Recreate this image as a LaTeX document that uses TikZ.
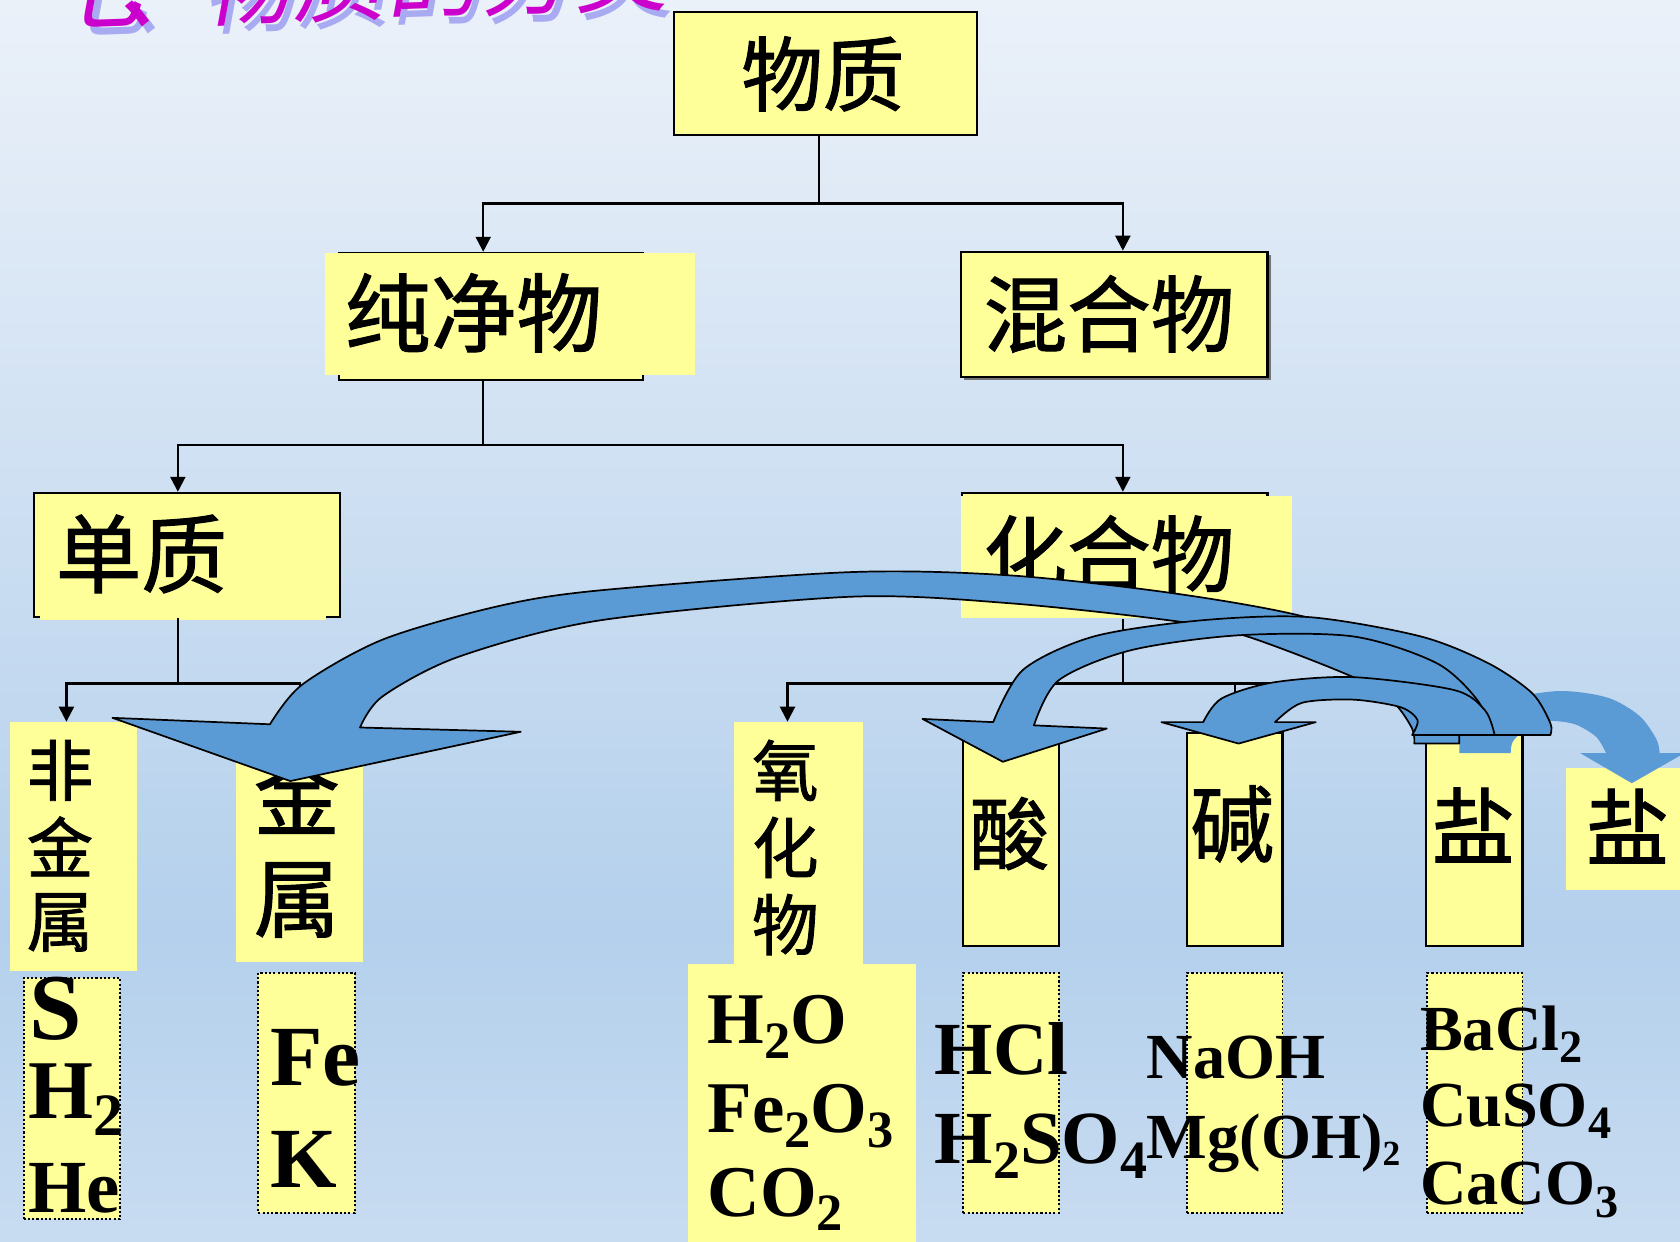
\documentclass[tikz,border=0pt]{standalone}
\usepackage{fontspec}
\usepackage{graphicx}
\setmainfont{Liberation Serif}
\newfontfamily\cjk[FakeBold=1.3]{Noto Sans CJK SC}
\newfontfamily\ttlcjk[FakeSlant=0.22]{Noto Sans CJK SC}
\usetikzlibrary{arrows.meta,fit}
\definecolor{paleY}{HTML}{FFFF99}
\definecolor{arrowB}{HTML}{5B9BD5}
\definecolor{bgTop}{HTML}{EBF1F9}
\definecolor{bgMid}{HTML}{B4D0EC}
\definecolor{bgBot}{HTML}{C8DCF1}
\definecolor{ttlMag}{HTML}{CC00CC}
\definecolor{ttlShd}{HTML}{A8AAF2}
\newcommand\fsz[1]{\fontsize{#1}{#1}\selectfont}
\newcommand\sbs[1]{\raisebox{-0.2em}{\scalebox{0.72}{#1}}}
\newcommand\sbsm[1]{\raisebox{-0.12em}{\scalebox{0.55}{#1}}}
\begin{document}
\begin{tikzpicture}[x=0.5pt,y=-0.5pt,
  ybox/.style={fill=paleY, draw=black, line width=1pt, inner sep=0pt},
  yfill/.style={fill=paleY, inner sep=0pt},
  dbox/.style={fill=paleY, draw=black, line width=0.9pt, dash pattern=on 1pt off 1pt, inner sep=0pt},
  chem/.style={inner sep=0pt, anchor=base west},
  ctext/.style={inner sep=0pt},
  tl/.style={draw=black, line width=1pt},
  ta/.style={tl, -{Triangle[length=7pt,width=7pt]}},
  bluearr/.style={fill=arrowB, draw=black, line width=0.8pt, line join=round},
  bluefill/.style={fill=arrowB}]
\useasboundingbox (0,0) rectangle (1568,1159);
% background
\fill[top color=bgTop, bottom color=bgMid] (0,0) rectangle (1568,870);
\fill[top color=bgMid, bottom color=bgBot] (0,869) rectangle (1568,1159);

% title (cut off at the top, as in the original slide)
\begin{scope}
\clip (0,0) rectangle (1568,1159);
\node[inner sep=0pt, anchor=base west, rotate=2, text=ttlShd, font=\ttlcjk\fsz{44}] (ttls) at (53,30) {七\kern-0.3em、\kern-0.15em物质的分类};
\node[inner sep=0pt, anchor=base west, rotate=2, text=ttlMag, font=\ttlcjk\fsz{44}] (ttl) at (48,23) {七\kern-0.3em、\kern-0.15em物质的分类};
\end{scope}

% level 0
\node[ybox, fit={(629,11) (912,126)}] (wz) {};
\node[ctext, font=\cjk\fsz{38}] (twz) at (768,69) {物质};

% level 1
\node[ybox, fit={(316,236) (600,355)}] (cjb) {};
\node[yfill, fit={(303,236) (649,350)}] (cjy) {};
\node[ctext, font=\cjk\fsz{40}] (tcj) at (442,292) {纯净物};
\fill[black!55] (900,238) rectangle (1186,355);
\node[ybox, fit={(897,235) (1183,352)}] (hh) {};
\node[ctext, font=\cjk\fsz{39}] (thh) at (1035,293) {混合物};

% level 2
\node[ybox, fit={(32,460) (317,576)}] (dz) {};
\node[yfill, fit={(37,470) (304,579)}] (dzy) {};
\node[ctext, font=\cjk\fsz{40}] (tdz) at (132,517) {单质};
\node[ybox, fit={(898,460) (1183,576)}] (hhw) {};
\node[yfill, fit={(897,463) (1206,577)}] (hhwy) {};
\node[ctext, font=\cjk\fsz{39}] (thhw) at (1035,517) {化合物};

% level 3
\node[yfill, fit={(9,674) (128,906)}] (fj) {};
\node[ctext, font=\cjk\fsz{31}] (fj1) at (56,719) {非};
\node[ctext, font=\cjk\fsz{31}] (fj2) at (56,790) {金};
\node[ctext, font=\cjk\fsz{31}] (fj3) at (56,861) {属};
\node[yfill, fit={(220,712) (339,898)}] (js) {};
\node[ctext, font=\cjk\fsz{40}] (js1) at (277,742) {金};
\node[ctext, font=\cjk\fsz{40}] (js2) at (277,840) {属};
\node[yfill, fit={(642,900) (855,1160)}] (yhx) {};
\node[yfill, fit={(685,674) (805,901)}] (yh) {};
\node[ctext, font=\cjk\fsz{31}] (yh1) at (733,719) {氧};
\node[ctext, font=\cjk\fsz{31}] (yh2) at (733,791) {化};
\node[ctext, font=\cjk\fsz{31}] (yh3) at (733,863) {物};
\node[ybox, fit={(899,690) (988,883)}] (suan) {};
\node[ctext, font=\cjk\fsz{37}] (tsuan) at (942,778) {酸};
\node[ybox, fit={(1108,684) (1197,883)}] (jian) {};
\node[ctext, font=\cjk\fsz{39}] (tjian) at (1150,769) {碱};
\node[ybox, fit={(1331,684) (1421,883)}] (yan) {};
\node[ctext, font=\cjk\fsz{39}] (tyan) at (1375,770) {盐};
\node[yfill, fit={(1462,717) (1570,831)}] (yan2) {};
\node[ctext, font=\cjk\fsz{39}] (tyan2) at (1519,771) {盐};

% level 4 (examples)
\node[dbox, fit={(22,913) (112,1138)}] (d1) {};
\node[dbox, fit={(241,908) (331,1132)}] (d2) {};
\node[dbox, fit={(899,908) (988,1132)}] (d3) {};
\node[dbox, fit={(1108,908) (1197,1132)}] (d4) {};
\node[dbox, fit={(1332,908) (1421,1132)}] (d5) {};

\node[chem, font=\bfseries\fsz{44}] (cS) at (27,970) {S};
\node[chem, font=\bfseries\fsz{39}] (cH2) at (26,1044) {H\sbs{2}};
\node[chem, font=\bfseries\fsz{35}] (cHe) at (26,1132) {He};
\node[chem, font=\bfseries\fsz{40}] (cFe) at (252,1013) {Fe};
\node[chem, font=\bfseries\fsz{40}] (cK) at (252,1108) {K};
\node[chem, font=\bfseries\fsz{34}] (cH2O) at (660,974) {H\sbs{2}O};
\node[chem, font=\bfseries\fsz{34}] (cFe2O3) at (660,1057) {Fe\sbs{2}O\sbs{3}};
\node[chem, font=\bfseries\fsz{34}] (cCO2) at (660,1135) {CO\sbs{2}};
\node[chem, font=\bfseries\fsz{35}] (cHCl) at (872,1003) {HCl};
\node[chem, font=\bfseries\fsz{35}] (cH2SO4) at (872,1086) {H\sbs{2}SO\sbs{4}};
\node[chem, font=\bfseries\fsz{30}] (cNaOH) at (1070,1007) {NaOH};
\node[chem, font=\bfseries\fsz{30}] (cMgOH) at (1070,1081) {Mg(OH)\sbsm{2}};
\node[chem, font=\bfseries\fsz{30}] (cBaCl2) at (1325,980) {BaCl\sbs{2}};
\node[chem, font=\bfseries\fsz{30}] (cCuSO4) at (1325,1051) {CuSO\sbs{4}};
\node[chem, font=\bfseries\fsz{30}] (cCaCO3) at (1325,1124) {CaCO\sbs{3}};

% tree connectors
\coordinate (xa) at (451,0);
\coordinate (xb) at (1048,0);
\coordinate (xc) at (166,0);
\coordinate (xd) at (62,0);
\coordinate (xe) at (280,0);
\coordinate (xf) at (735,0);
\coordinate (xg) at (944,0);
\coordinate (xh) at (1153,0);
\coordinate (xi) at (1376,0);
\coordinate (h1) at (764,190);
\coordinate (h2) at (451,415);
\coordinate (h3) at (166,638);
\coordinate (h4) at (1048,638);
\draw[tl] (wz.south -| h1) -- (h1);
\draw[ta] (h1) -| (xa |- cjb.north);
\draw[ta] (h1) -| (xb |- hh.north);
\draw[tl] (cjb.south -| h2) -- (h2);
\draw[ta] (h2) -| (xc |- dz.north);
\draw[ta] (h2) -| (xb |- hhw.north);
\draw[tl] (dz.south -| h3) -- (h3);
\draw[ta] (h3) -| (xd |- fj.north);
\draw[ta] (h3) -| (xe |- js.north);
\draw[tl] (hhwy.south -| h4) -- (h4);
\draw[ta] (h4) -| (xf |- yh.north);
\draw[ta] (h4) -| (xg |- suan.north);
\draw[ta] (h4) -| (xh |- jian.north);
\draw[ta] (h4) -| (xi |- yan.north);

% blue curved arrows
% D: salt -> salt (no outline)
\fill[bluefill] (1362,703) -- plot[smooth] coordinates {(1362,680) (1400,655) (1454,645) (1500,651) (1530,668) (1546,690) (1549,703)}
  -- (1572,703) -- (1523,731) -- (1475,703) -- (1499,703)
  -- plot[smooth] coordinates {(1499,703) (1490,688) (1470,676) (1445,673) (1425,680) (1412,692) (1410,703)} -- cycle;
% A: salt -> metal
\draw[bluearr] plot[smooth] coordinates {(1410,686) (1405,662) (1385,640) (1330,612) (1215,575) (1090,553) (942,537) (793,534) (560,551) (464,566) (357,597) (282,639) (252,676)}
  -- (105,670) -- (271,729) -- (486,683)
  -- plot[smooth] coordinates {(336,679) (357,650) (428,613) (560,579) (793,557) (942,563) (1099,580) (1164,594) (1263,632) (1300,655) (1318,680) (1320,694)}
  -- (1362,694) -- (1362,686) -- cycle;
% B: salt -> acid
\draw[bluearr] plot[smooth] coordinates {(1447,686) (1447,675) (1430,647) (1389,619) (1326,594) (1222,576) (1121,579) (1021,594) (955,625) (927,674)}
  -- (861,671) -- (936,711) -- (1033,680)
  -- plot[smooth] coordinates {(965,677) (988,635) (1055,607) (1155,593) (1263,594) (1341,619) (1380,655) (1390,686)} -- cycle;
% C: salt -> base
\draw[bluearr] plot[smooth] coordinates {(1395,686) (1386,663) (1357,644) (1263,632) (1188,637) (1140,652) (1123,674)}
  -- (1084,674) -- (1156,694) -- (1228,674)
  -- plot[smooth] coordinates {(1190,674) (1215,656) (1263,653) (1307,660) (1323,672) (1318,686)} -- cycle;
\end{tikzpicture}
\end{document}
